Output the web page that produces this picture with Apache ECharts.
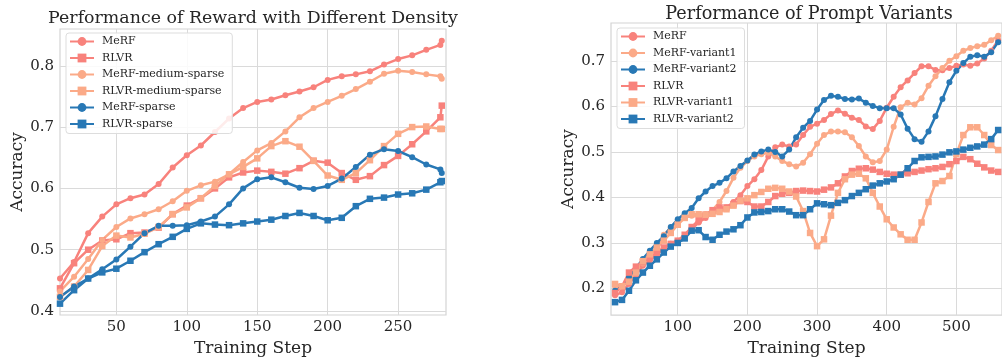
<!DOCTYPE html>
<html>
<head>
<meta charset="utf-8">
<script src="https://cdn.jsdelivr.net/npm/echarts@6/dist/echarts.min.js"></script>
<style>
  html, body { margin: 0; padding: 0; background: #fff; }
  #chart { width: 1002px; height: 362px; }
</style>
</head>
<body>
<div id="chart"></div>
<script>
const red = '#f8827c';
const orange = '#fbaa88';
const blue = '#2878b5';
const font = 'DejaVu Serif';

// left panel: reward density
const stepsA = [10, 20, 30, 40, 50, 60, 70, 80, 90, 100, 110, 120, 130, 140, 150, 160, 170, 180, 190, 200,
    210, 220, 230, 240, 250, 260, 270, 280, 281];
const merf = [0.453, 0.48, 0.527, 0.554, 0.574, 0.584, 0.59, 0.607, 0.634, 0.654, 0.67, 0.692, 0.714, 0.731, 0.741,
    0.745, 0.752, 0.758, 0.765, 0.777, 0.783, 0.786, 0.791, 0.802, 0.811, 0.817, 0.826, 0.834, 0.841];
const rlvr = [0.437, 0.478, 0.5, 0.515, 0.517, 0.527, 0.528, 0.536, 0.558, 0.572, 0.584, 0.6, 0.618, 0.626, 0.629,
    0.627, 0.624, 0.633, 0.645, 0.642, 0.625, 0.614, 0.62, 0.638, 0.653, 0.672, 0.693, 0.716, 0.735];
const merfMedium = [0.432, 0.456, 0.485, 0.516, 0.537, 0.551, 0.558, 0.566, 0.579, 0.596, 0.605, 0.611, 0.623, 0.643,
    0.662, 0.674, 0.693, 0.716, 0.731, 0.741, 0.751, 0.762, 0.774, 0.787, 0.792, 0.79, 0.786, 0.783, 0.779];
const rlvrMedium = [0.423, 0.44, 0.467, 0.506, 0.523, 0.52, 0.526, 0.537, 0.558, 0.569, 0.584, 0.604, 0.623, 0.635,
    0.649, 0.669, 0.677, 0.668, 0.645, 0.621, 0.614, 0.625, 0.646, 0.669, 0.689, 0.7, 0.701, 0.697, 0.697];
const merfSparse = [0.423, 0.44, 0.453, 0.468, 0.484, 0.505, 0.527, 0.539, 0.539, 0.54, 0.546, 0.554, 0.574, 0.6,
    0.615, 0.618, 0.61, 0.601, 0.599, 0.604, 0.616, 0.635, 0.655, 0.664, 0.661, 0.651, 0.639, 0.631, 0.625];
const rlvrSparse = [0.412, 0.434, 0.453, 0.463, 0.469, 0.482, 0.496, 0.509, 0.521, 0.534, 0.543, 0.541, 0.54, 0.543,
    0.546, 0.549, 0.555, 0.56, 0.555, 0.548, 0.552, 0.571, 0.583, 0.585, 0.59, 0.592, 0.598, 0.61, 0.612];

// right panel: prompt variants
const stepsB = [10, 20, 30, 40, 50, 60, 70, 80, 90, 100, 110, 120, 130, 140, 150, 160, 170, 180, 190, 200,
    210, 220, 230, 240, 250, 260, 270, 280, 290, 300, 310, 320, 330, 340, 350, 360, 370, 380, 390, 400,
    410, 420, 430, 440, 450, 460, 470, 480, 490, 500, 510, 520, 530, 540, 550, 560];
const merfB = [0.185, 0.192, 0.21, 0.23, 0.25, 0.262, 0.275, 0.288, 0.298, 0.305, 0.315, 0.33, 0.345, 0.355, 0.365,
    0.372, 0.378, 0.39, 0.405, 0.425, 0.44, 0.46, 0.49, 0.51, 0.516, 0.512, 0.516, 0.537, 0.555, 0.562,
    0.57, 0.583, 0.591, 0.584, 0.575, 0.57, 0.556, 0.55, 0.568, 0.597, 0.621, 0.642, 0.657, 0.673, 0.688,
    0.688, 0.68, 0.679, 0.684, 0.689, 0.692, 0.689, 0.694, 0.705, 0.722, 0.745];
const merfV1 = [0.205, 0.205, 0.22, 0.24, 0.255, 0.27, 0.29, 0.318, 0.333, 0.345, 0.355, 0.36, 0.36, 0.363, 0.372,
    0.39, 0.414, 0.443, 0.465, 0.48, 0.49, 0.495, 0.498, 0.49, 0.48, 0.473, 0.468, 0.476, 0.495, 0.518,
    0.537, 0.545, 0.545, 0.543, 0.532, 0.513, 0.49, 0.477, 0.48, 0.505, 0.555, 0.598, 0.608, 0.604, 0.618,
    0.645, 0.666, 0.684, 0.7, 0.71, 0.722, 0.728, 0.732, 0.735, 0.745, 0.755];
const merfV2 = [0.195, 0.205, 0.225, 0.245, 0.265, 0.283, 0.3, 0.315, 0.335, 0.352, 0.365, 0.377, 0.398, 0.413, 0.425,
    0.432, 0.442, 0.457, 0.469, 0.481, 0.494, 0.501, 0.505, 0.5, 0.49, 0.505, 0.532, 0.553, 0.568, 0.593,
    0.614, 0.623, 0.621, 0.616, 0.615, 0.617, 0.608, 0.601, 0.596, 0.596, 0.596, 0.582, 0.551, 0.528, 0.522,
    0.545, 0.578, 0.616, 0.653, 0.678, 0.695, 0.709, 0.712, 0.709, 0.719, 0.741];
const rlvrB = [0.19, 0.205, 0.235, 0.248, 0.258, 0.268, 0.278, 0.29, 0.298, 0.305, 0.318, 0.335, 0.35, 0.362, 0.372,
    0.378, 0.378, 0.385, 0.392, 0.39, 0.38, 0.38, 0.39, 0.403, 0.408, 0.41, 0.414, 0.415, 0.414, 0.413,
    0.417, 0.422, 0.431, 0.446, 0.458, 0.463, 0.464, 0.461, 0.456, 0.452, 0.45, 0.45, 0.453, 0.456, 0.459,
    0.462, 0.464, 0.467, 0.473, 0.48, 0.489, 0.484, 0.474, 0.466, 0.459, 0.456];
const rlvrV1 = [0.21, 0.205, 0.215, 0.235, 0.26, 0.275, 0.29, 0.305, 0.322, 0.34, 0.355, 0.363, 0.363, 0.362, 0.364,
    0.368, 0.374, 0.382, 0.393, 0.398, 0.405, 0.412, 0.419, 0.421, 0.419, 0.413, 0.402, 0.37, 0.322, 0.293,
    0.308, 0.36, 0.41, 0.44, 0.45, 0.452, 0.442, 0.41, 0.38, 0.352, 0.334, 0.319, 0.307, 0.307, 0.345,
    0.39, 0.431, 0.436, 0.447, 0.495, 0.537, 0.554, 0.554, 0.537, 0.515, 0.504];
const rlvrV2 = [0.17, 0.175, 0.195, 0.218, 0.235, 0.25, 0.264, 0.279, 0.292, 0.3, 0.31, 0.327, 0.328, 0.313, 0.307,
    0.318, 0.325, 0.33, 0.339, 0.356, 0.367, 0.368, 0.37, 0.374, 0.374, 0.369, 0.361, 0.361, 0.374, 0.387,
    0.385, 0.383, 0.388, 0.394, 0.403, 0.41, 0.418, 0.426, 0.431, 0.435, 0.44, 0.45, 0.464, 0.48, 0.488,
    0.489, 0.49, 0.494, 0.499, 0.501, 0.505, 0.509, 0.512, 0.516, 0.528, 0.548];

const xTicksA = [50, 100, 150, 200, 250];
const yTicksA = [0.4, 0.5, 0.6, 0.7, 0.8];
const xTicksB = [100, 200, 300, 400, 500];
const yTicksB = [0.2, 0.3, 0.4, 0.5, 0.6, 0.7];

const pairs = (xs, ys) => xs.map((x, i) => [x, ys[i]]);

const gridLine = { show: true, lineStyle: { color: '#dadada', width: 1 } };
const tickText = { color: '#262626', fontFamily: font, fontSize: 15 };
const nameText = { color: '#262626', fontFamily: font, fontSize: 17 };

function xAxis(idx, min, max, ticks) {
    return {
        type: 'value', gridIndex: idx, min, max,
        name: 'Training Step', nameLocation: 'middle', nameGap: 22, nameTextStyle: nameText,
        axisLine: { show: false },
        axisTick: { show: false, customValues: ticks },
        axisLabel: Object.assign({ margin: 5, customValues: ticks }, tickText),
        splitLine: gridLine,
    };
}

function yAxis(idx, min, max, ticks) {
    return {
        type: 'value', gridIndex: idx, min, max,
        name: 'Accuracy', nameLocation: 'middle', nameGap: 33, nameTextStyle: nameText,
        axisLine: { show: false },
        axisTick: { show: false, customValues: ticks },
        axisLabel: Object.assign({ margin: 6, customValues: ticks, formatter: v => v.toFixed(1) }, tickText),
        splitLine: gridLine,
    };
}

function line(name, idx, color, symbol, xs, ys) {
    return {
        name, type: 'line', xAxisIndex: idx, yAxisIndex: idx,
        data: pairs(xs, ys),
        symbol, symbolSize: symbol === 'circle' ? 6 : 6.5,
        lineStyle: { color, width: 2.5 },
        itemStyle: { color },
        emphasis: { disabled: true },
    };
}

function legend(left, top, names) {
    return {
        left, top, orient: 'vertical', data: names,
        itemWidth: 24, itemHeight: 11, itemGap: 5.5,
        padding: [3, 8, 4, 3],
        backgroundColor: 'rgba(255,255,255,0.85)',
        borderColor: '#dddddd', borderWidth: 1, borderRadius: 3,
        textStyle: { color: '#262626', fontFamily: font, fontSize: 11, padding: [0, 0, 0, 3] },
    };
}

const chart = echarts.init(document.getElementById('chart'));
chart.setOption({
    animation: false,
    backgroundColor: '#fff',
    graphic: [
        { type: 'text', x: 253, y: 18, style: { text: 'Performance of Reward with Different Density', align: 'center', verticalAlign: 'middle', font: '17.4px "DejaVu Serif"', fill: '#262626' } },
        { type: 'text', x: 809, y: 14, style: { text: 'Performance of Prompt Variants', align: 'center', verticalAlign: 'middle', font: '17.6px "DejaVu Serif"', fill: '#262626' } },
    ],
    grid: [
        { left: 60, top: 29, width: 386, height: 286, show: true, borderColor: '#d4d4d4', borderWidth: 1.2 },
        { left: 611, top: 23, width: 396, height: 296, show: true, borderColor: '#d4d4d4', borderWidth: 1.2 },
    ],
    xAxis: [xAxis(0, 10, 284, xTicksA), xAxis(1, 4.2, 565.5, xTicksB)],
    yAxis: [yAxis(0, 0.3935, 0.86, yTicksA), yAxis(1, 0.1416, 0.783, yTicksB)],
    legend: [
        legend(66, 33, ['MeRF', 'RLVR', 'MeRF-medium-sparse', 'RLVR-medium-sparse', 'MeRF-sparse', 'RLVR-sparse']),
        legend(617, 28, ['MeRF', 'MeRF-variant1', 'MeRF-variant2', 'RLVR', 'RLVR-variant1', 'RLVR-variant2']),
    ],
    series: [
        line('MeRF', 0, red, 'circle', stepsA, merf),
        line('RLVR', 0, red, 'rect', stepsA, rlvr),
        line('MeRF-medium-sparse', 0, orange, 'circle', stepsA, merfMedium),
        line('RLVR-medium-sparse', 0, orange, 'rect', stepsA, rlvrMedium),
        line('MeRF-sparse', 0, blue, 'circle', stepsA, merfSparse),
        line('RLVR-sparse', 0, blue, 'rect', stepsA, rlvrSparse),
        line('MeRF', 1, red, 'circle', stepsB, merfB),
        line('MeRF-variant1', 1, orange, 'circle', stepsB, merfV1),
        line('MeRF-variant2', 1, blue, 'circle', stepsB, merfV2),
        line('RLVR', 1, red, 'rect', stepsB, rlvrB),
        line('RLVR-variant1', 1, orange, 'rect', stepsB, rlvrV1),
        line('RLVR-variant2', 1, blue, 'rect', stepsB, rlvrV2),
    ],
});
</script>
</body>
</html>
